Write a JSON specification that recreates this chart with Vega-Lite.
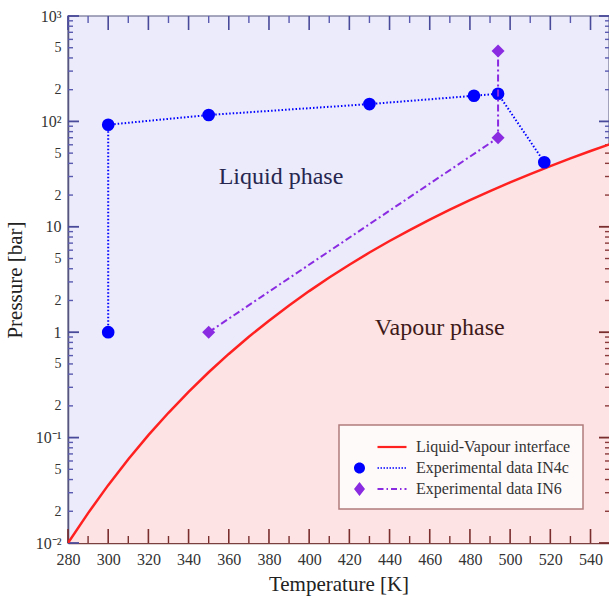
{
  "$schema": "https://vega.github.io/schema/vega-lite/v6.json",
  "width": 541,
  "height": 527,
  "autosize": "none",
  "padding": {"left": 68, "top": 16, "right": 0, "bottom": 57},
  "background": "white",
  "config": {
    "font": "Liberation Serif",
    "view": {"fill": "#ebebfb", "stroke": "#8a8aa8", "strokeWidth": 1.5},
    "axis": {"grid": false, "labelFont": "Liberation Serif", "titleFont": "Liberation Serif", "labelColor": "#333333", "titleColor": "#222222", "titleFontWeight": "normal"}
  },
  "datasets": {
    "curve": [
      {"T": 280, "P": 0.0100, "series": "Liquid-Vapour interface"},
      {"T": 290, "P": 0.0192, "series": "Liquid-Vapour interface"},
      {"T": 300, "P": 0.0354, "series": "Liquid-Vapour interface"},
      {"T": 310, "P": 0.0624, "series": "Liquid-Vapour interface"},
      {"T": 320, "P": 0.1055, "series": "Liquid-Vapour interface"},
      {"T": 330, "P": 0.172, "series": "Liquid-Vapour interface"},
      {"T": 340, "P": 0.271, "series": "Liquid-Vapour interface"},
      {"T": 350, "P": 0.417, "series": "Liquid-Vapour interface"},
      {"T": 360, "P": 0.622, "series": "Liquid-Vapour interface"},
      {"T": 370, "P": 0.906, "series": "Liquid-Vapour interface"},
      {"T": 380, "P": 1.287, "series": "Liquid-Vapour interface"},
      {"T": 390, "P": 1.794, "series": "Liquid-Vapour interface"},
      {"T": 400, "P": 2.455, "series": "Liquid-Vapour interface"},
      {"T": 410, "P": 3.302, "series": "Liquid-Vapour interface"},
      {"T": 420, "P": 4.37, "series": "Liquid-Vapour interface"},
      {"T": 430, "P": 5.699, "series": "Liquid-Vapour interface"},
      {"T": 440, "P": 7.333, "series": "Liquid-Vapour interface"},
      {"T": 450, "P": 9.319, "series": "Liquid-Vapour interface"},
      {"T": 460, "P": 11.71, "series": "Liquid-Vapour interface"},
      {"T": 470, "P": 14.55, "series": "Liquid-Vapour interface"},
      {"T": 480, "P": 17.9, "series": "Liquid-Vapour interface"},
      {"T": 490, "P": 21.83, "series": "Liquid-Vapour interface"},
      {"T": 500, "P": 26.39, "series": "Liquid-Vapour interface"},
      {"T": 510, "P": 31.66, "series": "Liquid-Vapour interface"},
      {"T": 520, "P": 37.7, "series": "Liquid-Vapour interface"},
      {"T": 530, "P": 44.58, "series": "Liquid-Vapour interface"},
      {"T": 540, "P": 52.38, "series": "Liquid-Vapour interface"},
      {"T": 550, "P": 61.19, "series": "Liquid-Vapour interface"}
    ],
    "in4c": [
      {"i": 1, "T": 300, "P": 1.0, "series": "Experimental data IN4c"},
      {"i": 2, "T": 300, "P": 93, "series": "Experimental data IN4c"},
      {"i": 3, "T": 350, "P": 115, "series": "Experimental data IN4c"},
      {"i": 4, "T": 430, "P": 146, "series": "Experimental data IN4c"},
      {"i": 5, "T": 482, "P": 175, "series": "Experimental data IN4c"},
      {"i": 6, "T": 494, "P": 183, "series": "Experimental data IN4c"},
      {"i": 7, "T": 517, "P": 41, "series": "Experimental data IN4c"}
    ],
    "in6": [
      {"i": 1, "T": 350, "P": 1.0, "series": "Experimental data IN6"},
      {"i": 2, "T": 494, "P": 70, "series": "Experimental data IN6"},
      {"i": 3, "T": 494, "P": 465, "series": "Experimental data IN6"}
    ],
    "labels": [
      {"T": 386, "P": 30, "label": "Liquid phase"},
      {"T": 465, "P": 1.1, "label": "Vapour phase"}
    ],
    "xmaj": [{"T": 280}, {"T": 300}, {"T": 320}, {"T": 340}, {"T": 360}, {"T": 380}, {"T": 400}, {"T": 420}, {"T": 440}, {"T": 460}, {"T": 480}, {"T": 500}, {"T": 520}, {"T": 540}],
    "xmin": [{"T": 290}, {"T": 310}, {"T": 330}, {"T": 350}, {"T": 370}, {"T": 390}, {"T": 410}, {"T": 430}, {"T": 450}, {"T": 470}, {"T": 490}, {"T": 510}, {"T": 530}],
    "ymaj": [{"P": 0.01}, {"P": 0.1}, {"P": 1}, {"P": 10}, {"P": 100}, {"P": 1000}],
    "ymin": [{"P": 0.02}, {"P": 0.03}, {"P": 0.04}, {"P": 0.05}, {"P": 0.06}, {"P": 0.07}, {"P": 0.08}, {"P": 0.09},
             {"P": 0.2}, {"P": 0.3}, {"P": 0.4}, {"P": 0.5}, {"P": 0.6}, {"P": 0.7}, {"P": 0.8}, {"P": 0.9},
             {"P": 2}, {"P": 3}, {"P": 4}, {"P": 5}, {"P": 6}, {"P": 7}, {"P": 8}, {"P": 9},
             {"P": 20}, {"P": 30}, {"P": 40}, {"P": 50}, {"P": 60}, {"P": 70}, {"P": 80}, {"P": 90},
             {"P": 200}, {"P": 300}, {"P": 400}, {"P": 500}, {"P": 600}, {"P": 700}, {"P": 800}, {"P": 900}]
  },
  "resolve": {"axis": {"x": "independent", "y": "independent"}},
  "layer": [
    {
      "data": {"name": "curve"},
      "mark": {"type": "area", "color": "#fde3e3", "clip": true},
      "encoding": {
        "x": {"field": "T", "type": "quantitative", "scale": {"domain": [280, 549.2], "nice": false, "zero": false},
          "axis": {"orient": "bottom", "values": [280, 300, 320, 340, 360, 380, 400, 420, 440, 460, 480, 500, 520, 540],
            "ticks": false, "tickSize": 0, "domainColor": "#7a4040", "domainWidth": 1.5,
            "labelPadding": 8, "labelFontSize": 16, "labelFlush": false,
            "title": "Temperature [K]", "titleFontSize": 21, "titlePadding": 6}},
        "y": {"field": "P", "type": "quantitative", "scale": {"type": "log", "domain": [0.01, 1000], "nice": false},
          "axis": {"orient": "left", "values": [0.01, 0.02, 0.05, 0.1, 0.2, 0.5, 1, 2, 5, 10, 20, 50, 100, 200, 500, 1000],
            "ticks": false, "tickSize": 0, "domainColor": "#55557f", "domainWidth": 1.5,
            "labelPadding": 7, "labelFlush": false,
            "labelFontSize": {"condition": {"test": "indexof([0.01, 0.1, 1, 10, 100, 1000], datum.value) >= 0", "value": 16}, "value": 14},
            "labelExpr": "datum.value == 1000 ? '10³' : datum.value == 100 ? '10²' : datum.value == 10 ? '10' : datum.value == 1 ? '1' : datum.value == 0.1 ? '10⁻¹' : datum.value == 0.01 ? '10⁻²' : substring(format(datum.value, '.0e'), 0, 1)",
            "title": "Pressure [bar]", "titleFontSize": 21, "titlePadding": 10}},
        "y2": {"datum": 0.01}
      }
    },
    {
      "data": {"name": "xmaj"},
      "mark": {"type": "rule", "color": "#7a2e2e", "strokeWidth": 1.6, "y2Offset": -14},
      "encoding": {
        "x": {"field": "T", "type": "quantitative", "axis": null},
        "y": {"datum": 0.01, "type": "quantitative", "axis": null},
        "y2": {"datum": 0.01}
      }
    },
    {
      "data": {"name": "xmin"},
      "mark": {"type": "rule", "color": "#7a2e2e", "strokeWidth": 1.4, "y2Offset": -7},
      "encoding": {
        "x": {"field": "T", "type": "quantitative", "axis": null},
        "y": {"datum": 0.01, "type": "quantitative", "axis": null},
        "y2": {"datum": 0.01}
      }
    },
    {
      "data": {"name": "xmaj"},
      "mark": {"type": "rule", "color": "#4a4a9a", "strokeWidth": 1.6, "y2Offset": 14},
      "encoding": {
        "x": {"field": "T", "type": "quantitative", "axis": null},
        "y": {"datum": 1000, "type": "quantitative", "axis": null},
        "y2": {"datum": 1000}
      }
    },
    {
      "data": {"name": "xmin"},
      "mark": {"type": "rule", "color": "#5a5ab0", "strokeWidth": 1.4, "y2Offset": 7},
      "encoding": {
        "x": {"field": "T", "type": "quantitative", "axis": null},
        "y": {"datum": 1000, "type": "quantitative", "axis": null},
        "y2": {"datum": 1000}
      }
    },
    {
      "data": {"name": "ymaj"},
      "mark": {"type": "rule", "color": "#4a4a9a", "strokeWidth": 1.8, "x2Offset": 11},
      "encoding": {
        "y": {"field": "P", "type": "quantitative", "axis": null},
        "x": {"datum": 280, "type": "quantitative", "axis": null},
        "x2": {"datum": 280}
      }
    },
    {
      "data": {"name": "ymin"},
      "mark": {"type": "rule", "color": "#5a5ab0", "strokeWidth": 1.4, "x2Offset": 5},
      "encoding": {
        "y": {"field": "P", "type": "quantitative", "axis": null},
        "x": {"datum": 280, "type": "quantitative", "axis": null},
        "x2": {"datum": 280}
      }
    },
    {
      "data": {"name": "ymaj"},
      "mark": {"type": "rule", "strokeWidth": 1.8, "x2Offset": -10},
      "encoding": {
        "y": {"field": "P", "type": "quantitative", "axis": null},
        "x": {"datum": 549.2, "type": "quantitative", "axis": null},
        "x2": {"datum": 549.2},
        "color": {"condition": {"test": "datum.P > 61", "value": "#4a4a9a"}, "value": "#7a2e2e"}
      }
    },
    {
      "data": {"name": "ymin"},
      "mark": {"type": "rule", "strokeWidth": 1.4, "x2Offset": -4},
      "encoding": {
        "y": {"field": "P", "type": "quantitative", "axis": null},
        "x": {"datum": 549.2, "type": "quantitative", "axis": null},
        "x2": {"datum": 549.2},
        "color": {"condition": {"test": "datum.P > 61", "value": "#5a5ab0"}, "value": "#8a3a3a"}
      }
    },
    {
      "data": {"name": "curve"},
      "mark": {"type": "line", "strokeWidth": 2.5, "clip": true},
      "encoding": {
        "x": {"field": "T", "type": "quantitative", "axis": null},
        "y": {"field": "P", "type": "quantitative", "axis": null},
        "color": {"field": "series", "type": "nominal",
          "scale": {"domain": ["Liquid-Vapour interface", "Experimental data IN4c", "Experimental data IN6"], "range": ["#ff2020", "#0000ff", "#8a2be2"]},
          "legend": {
            "title": null, "orient": "none", "legendX": 271, "legendY": 409,
            "fillColor": "#fffafa", "strokeColor": "#b07c7c", "padding": 12, "cornerRadius": 0,
            "labelFont": "Liberation Serif", "labelFontSize": 16, "labelColor": "#333333", "labelLimit": 300,
            "labelOffset": 26, "rowPadding": 3, "symbolSize": 400, "symbolOffset": 19,
            "encode": {
              "legend": {"update": {"strokeWidth": {"value": 1.5}}},
              "symbols": {"update": {
              "shape": {"signal": "datum.value === 'Experimental data IN4c' ? 'M-2.6,0A0.55,0.55 0 1,0 -1.5,0A0.55,0.55 0 1,0 -2.6,0Z M-0.25,-0.08L-0.1,-0.08L-0.1,0.08L-0.25,0.08Z M0.05,-0.08L0.2,-0.08L0.2,0.08L0.05,0.08Z M0.35,-0.08L0.5,-0.08L0.5,0.08L0.35,0.08Z M0.65,-0.08L0.8,-0.08L0.8,0.08L0.65,0.08Z M0.95,-0.08L1.1,-0.08L1.1,0.08L0.95,0.08Z M1.25,-0.08L1.4,-0.08L1.4,0.08L1.25,0.08Z M1.55,-0.08L1.7,-0.08L1.7,0.08L1.55,0.08Z M1.85,-0.08L2,-0.08L2,0.08L1.85,0.08Z M2.15,-0.08L2.3,-0.08L2.3,0.08L2.15,0.08Z M2.45,-0.08L2.6,-0.08L2.6,0.08L2.45,0.08Z' : datum.value === 'Experimental data IN6' ? 'M-2.05,-0.7L-1.5,0L-2.05,0.7L-2.6,0Z M-0.25,-0.1L0.35,-0.1L0.35,0.1L-0.25,0.1Z M0.65,-0.1L0.8,-0.1L0.8,0.1L0.65,0.1Z M1.1,-0.1L1.7,-0.1L1.7,0.1L1.1,0.1Z M2,-0.1L2.15,-0.1L2.15,0.1L2,0.1Z M2.45,-0.1L2.65,-0.1L2.65,0.1L2.45,0.1Z' : 'M-0.25,-0.11L2.65,-0.11L2.65,0.11L-0.25,0.11Z'"},
              "fill": {"signal": "datum.value === 'Experimental data IN4c' ? '#1010ff' : datum.value === 'Experimental data IN6' ? '#8a2be2' : '#ff2020'"},
              "stroke": {"value": "transparent"},
              "strokeWidth": {"value": 0},
              "size": {"value": 400},
              "opacity": {"value": 1}
            }}}
          }}
      }
    },
    {
      "data": {"name": "in4c"},
      "mark": {"type": "line", "strokeWidth": 2, "strokeDash": [1.5, 2]},
      "encoding": {
        "x": {"field": "T", "type": "quantitative", "axis": null},
        "y": {"field": "P", "type": "quantitative", "axis": null},
        "order": {"field": "i", "type": "quantitative"},
        "color": {"field": "series", "type": "nominal"}
      }
    },
    {
      "data": {"name": "in4c"},
      "mark": {"type": "point", "filled": true, "shape": "circle", "size": 160, "opacity": 1},
      "encoding": {
        "x": {"field": "T", "type": "quantitative", "axis": null},
        "y": {"field": "P", "type": "quantitative", "axis": null},
        "color": {"field": "series", "type": "nominal"}
      }
    },
    {
      "data": {"name": "in6"},
      "mark": {"type": "line", "strokeWidth": 2, "strokeDash": [7, 3, 2, 3]},
      "encoding": {
        "x": {"field": "T", "type": "quantitative", "axis": null},
        "y": {"field": "P", "type": "quantitative", "axis": null},
        "order": {"field": "i", "type": "quantitative"},
        "color": {"field": "series", "type": "nominal"}
      }
    },
    {
      "data": {"name": "in6"},
      "mark": {"type": "point", "filled": true, "shape": "diamond", "size": 170, "opacity": 1},
      "encoding": {
        "x": {"field": "T", "type": "quantitative", "axis": null},
        "y": {"field": "P", "type": "quantitative", "axis": null},
        "color": {"field": "series", "type": "nominal"}
      }
    },
    {
      "data": {"name": "labels"},
      "mark": {"type": "text", "font": "Liberation Serif", "fontSize": 24, "align": "center", "baseline": "middle"},
      "encoding": {
        "x": {"field": "T", "type": "quantitative", "axis": null},
        "y": {"field": "P", "type": "quantitative", "axis": null},
        "text": {"field": "label"},
        "color": {"condition": {"test": "datum.label === 'Liquid phase'", "value": "#26264f"}, "value": "#3f1a1a"}
      }
    }
  ]
}
